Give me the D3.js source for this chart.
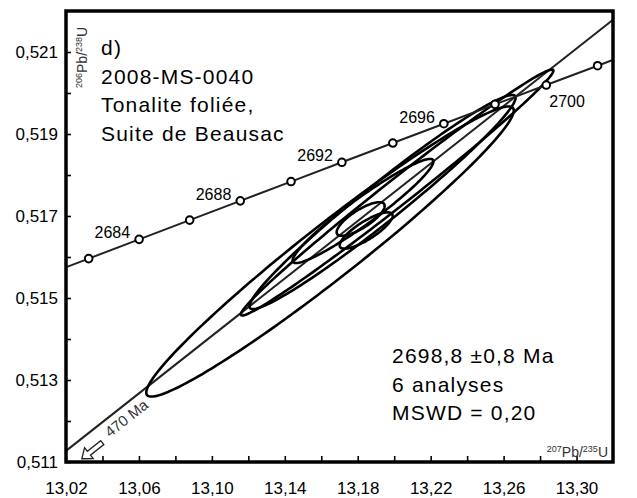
<!DOCTYPE html>
<html lang="fr">
<head>
<meta charset="UTF-8">
<title>Concordia 2008-MS-0040</title>
<script src="https://d3js.org/d3.v7.min.js"></script>
<style>
  body { margin: 0; background: #fff; }
  text { font-family: "Liberation Sans", Arial, sans-serif; }
</style>
</head>
<body>
<div id="chart"></div>
<script>
const width = 637;
const height = 498;

// concordia points (age in Ma, 207Pb/235U, 206Pb/238U)
const ages = [2680, 2682, 2684, 2686, 2688, 2690, 2692, 2694, 2696, 2698, 2700, 2702, 2704];
const pb207U235 = [13.00483, 13.03244, 13.06010, 13.08782, 13.11559, 13.14342, 13.17131, 13.19925, 13.22724, 13.25529, 13.28340, 13.31156, 13.33978];
const pb206U238 = [0.515492, 0.515961, 0.516430, 0.516900, 0.517370, 0.517840, 0.518310, 0.518780, 0.519251, 0.519723, 0.520194, 0.520666, 0.521138];
const labelledAges = [2684, 2688, 2692, 2696, 2700];

// discordia: lower intercept 470 Ma, upper intercept 2698,8 Ma
const discX = [0.5886, 13.2665];
const discY = [0.07563, 0.51991];

// error ellipses of the 6 analyses
const ellX = [13.1648, 13.2016, 13.1936, 13.1829, 13.1816, 13.1846];
const ellY = [0.516134, 0.517573, 0.517341, 0.517122, 0.516927, 0.516646];
const ellSx = [0.10078, 0.0857, 0.07297, 0.0386, 0.01316, 0.0145];
const ellSy = [0.003538, 0.002999, 0.002611, 0.00127, 0.00041, 0.000443];
const ellRho = [0.97185, 0.99095, 0.97403, 0.9517, 0.7829, 0.8168];

const xTicks = d3.range(13.02, 13.305, 0.02);
const yTicks = d3.range(0.511, 0.5215, 0.001);
const titleLines = ["d)", "2008-MS-0040", "Tonalite foliée,", "Suite de Beausac"];
const resultLines = ["2698,8 ±0,8 Ma", "6 analyses", "MSWD = 0,20"];

const margin = { left: 66, right: 24, top: 11, bottom: 36 };
const x = d3.scaleLinear().domain([13.02, 13.32]).range([margin.left, width - margin.right]);
const y = d3.scaleLinear().domain([0.511, 0.522]).range([height - margin.bottom, margin.top]);

const fr = d3.formatLocale({ decimal: ",", thousands: " ", grouping: [3], currency: ["", ""] });
const fx = fr.format(".2f"), fy = fr.format(".3f");

const svg = d3.select("#chart").append("svg")
    .attr("width", width)
    .attr("height", height);

svg.append("rect").attr("width", width).attr("height", height).attr("fill", "#fff");

svg.append("clipPath").attr("id", "plot")
  .append("rect")
    .attr("x", x.range()[0]).attr("y", y.range()[1])
    .attr("width", x.range()[1] - x.range()[0])
    .attr("height", y.range()[0] - y.range()[1]);

const plot = svg.append("g").attr("clip-path", "url(#plot)");

// discordia line
const slope = (discY[1] - discY[0]) / (discX[1] - discX[0]);
const xd = x.domain();
plot.append("line")
    .attr("x1", x(xd[0])).attr("y1", y(discY[1] + slope * (xd[0] - discX[1])))
    .attr("x2", x(xd[1])).attr("y2", y(discY[1] + slope * (xd[1] - discX[1])))
    .attr("stroke", "#222")
    .attr("stroke-width", 2);

// ellipses
const ellLine = d3.line().curve(d3.curveLinearClosed);
ellX.forEach((cx, i) => {
    const pts = d3.range(0, 360, 2).map(a => {
        const t = a * Math.PI / 180;
        const px = cx + ellSx[i] * Math.cos(t);
        const py = ellY[i] + ellSy[i] * (ellRho[i] * Math.cos(t) + Math.sqrt(1 - ellRho[i] * ellRho[i]) * Math.sin(t));
        return [x(px), y(py)];
    });
    plot.append("path")
        .attr("d", ellLine(pts))
        .attr("fill", "none")
        .attr("stroke", "#000")
        .attr("stroke-width", 2.6);
});

// concordia
const conc = ages.map((a, i) => ({ age: a, x: pb207U235[i], y: pb206U238[i] }));
plot.append("path")
    .attr("d", d3.line().x(d => x(d.x)).y(d => y(d.y))(conc))
    .attr("fill", "none")
    .attr("stroke", "#222")
    .attr("stroke-width", 2);

plot.selectAll("circle")
    .data(conc.filter(d => d.x > xd[0] && d.x < xd[1]))
    .enter().append("circle")
    .attr("cx", d => x(d.x))
    .attr("cy", d => y(d.y))
    .attr("r", 3.8)
    .attr("fill", "#fff")
    .attr("stroke", "#000")
    .attr("stroke-width", 2);

svg.selectAll(".agelab")
    .data(conc.filter(d => labelledAges.includes(d.age)))
    .enter().append("text")
    .attr("class", "agelab")
    .attr("x", d => d.age === 2700 ? x(d.x) + 3 : x(d.x) - 9)
    .attr("y", d => d.age === 2700 ? y(d.y) + 22 : y(d.y) - 1)
    .attr("text-anchor", d => d.age === 2700 ? "start" : "end")
    .attr("font-size", 16)
    .text(d => d.age);

// 470 Ma label and arrow along the discordia
const ax0 = 13.0435;
const ay0 = discY[1] + slope * (ax0 - discX[1]);
const ang = Math.atan2(y(ay0 + slope * 0.1) - y(ay0), x(ax0 + 0.1) - x(ax0)) * 180 / Math.PI;
const lg = svg.append("g").attr("transform", `translate(${x(ax0)},${y(ay0)}) rotate(${ang})`);
lg.append("text")
    .attr("x", -12).attr("y", 17)
    .attr("font-size", 15)
    .attr("fill", "#333")
    .text("470 Ma");
lg.append("path")
    .attr("d", "M-47,16 L-38,9 L-38,13.5 L-21,13.5 L-21,18.5 L-38,18.5 L-38,23 Z")
    .attr("fill", "#fff")
    .attr("stroke", "#222")
    .attr("stroke-width", 1.3);

// axes
const xAxis = d3.axisBottom(x).tickValues(xTicks).tickSize(-6).tickPadding(20)
    .tickFormat((d, i) => i % 2 === 0 ? fx(d) : "");
svg.append("g")
    .attr("transform", `translate(0,${y.range()[0]})`)
    .call(xAxis)
    .call(g => g.select(".domain").remove())
    .call(g => g.selectAll("line").attr("stroke-width", 1.6))
    .call(g => g.selectAll("text").attr("font-size", 17).attr("fill", "#000")
        .style("font-family", "'Liberation Sans', Arial, sans-serif"));

const yAxis = d3.axisLeft(y).tickValues(yTicks).tickSize(-5).tickPadding(8)
    .tickFormat((d, i) => i % 2 === 0 ? fy(d) : "");
svg.append("g")
    .attr("transform", `translate(${x.range()[0]},0)`)
    .call(yAxis)
    .call(g => g.select(".domain").remove())
    .call(g => g.selectAll("line").attr("stroke-width", 1.6))
    .call(g => g.selectAll("text").attr("font-size", 17).attr("fill", "#000")
        .style("font-family", "'Liberation Sans', Arial, sans-serif"));

// frame
svg.append("rect")
    .attr("x", x.range()[0]).attr("y", y.range()[1])
    .attr("width", x.range()[1] - x.range()[0])
    .attr("height", y.range()[0] - y.range()[1])
    .attr("fill", "none")
    .attr("stroke", "#000")
    .attr("stroke-width", 3.5);

// axis titles
function ratioLabel(sel, top, bottom) {
    sel.append("tspan").attr("font-size", 9).attr("dy", -5).text(top[0]);
    sel.append("tspan").attr("font-size", 14).attr("dy", 5).text("Pb/");
    sel.append("tspan").attr("font-size", 9).attr("dy", -5).text(bottom[0]);
    sel.append("tspan").attr("font-size", 14).attr("dy", 5).text("U");
}
svg.append("text")
    .attr("transform", `translate(${x.range()[0] + 21},88) rotate(-90)`)
    .attr("fill", "#333")
    .call(ratioLabel, ["206"], ["238"]);
svg.append("text")
    .attr("x", x.range()[1] - 5).attr("y", y.range()[0] - 5)
    .attr("text-anchor", "end")
    .attr("fill", "#333")
    .call(ratioLabel, ["207"], ["235"]);

// sample description
svg.selectAll(".title")
    .data(titleLines)
    .enter().append("text")
    .attr("x", 101)
    .attr("y", (d, i) => 55 + i * 28.5)
    .attr("font-size", 21)
    .attr("letter-spacing", 1.2)
    .text(d => d);

svg.selectAll(".result")
    .data(resultLines)
    .enter().append("text")
    .attr("x", 392)
    .attr("y", (d, i) => 363 + i * 28.5)
    .attr("font-size", 21)
    .attr("letter-spacing", 1.2)
    .text(d => d);
</script>
</body>
</html>
